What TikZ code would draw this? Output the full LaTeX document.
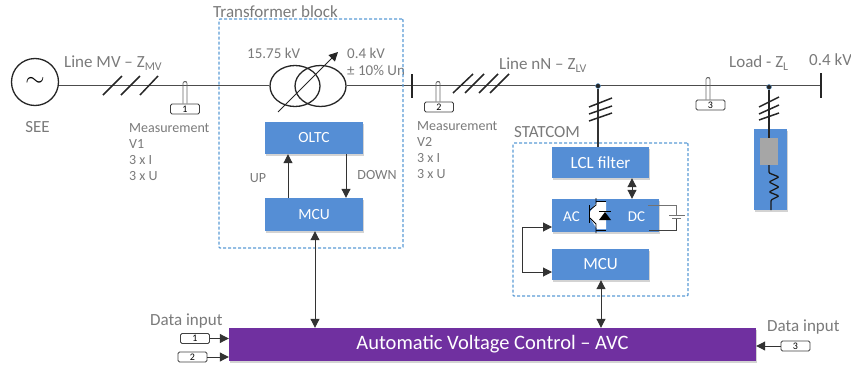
\documentclass[tikz,border=0pt]{standalone}
\usepackage{fontspec}
\setmainfont{Carlito}
\usetikzlibrary{arrows.meta}
\usetikzlibrary{positioning}
\usetikzlibrary{shapes.geometric}
\usetikzlibrary{shadows}
\definecolor{labelgray}{HTML}{7A7A7A}
\definecolor{blockblue}{HTML}{558ED5}
\definecolor{dashblue}{HTML}{5B9BD5}
\definecolor{avcpurple}{HTML}{7030A0}

\begin{document}
\begin{tikzpicture}[x=1pt,y=-1pt,>={Triangle[length=9pt,width=9pt]},
                    label node/.style={text=labelgray,font=\fontsize{17}{17}\selectfont,inner sep=0pt},
                    volt node/.style={text=labelgray,font=\fontsize{15}{15}\selectfont,inner sep=0pt},
                    small node/.style={text=labelgray,font=\fontsize{14}{16}\selectfont,inner sep=0pt,align=left},
                    block node/.style={fill=blockblue,text=white,font=\fontsize{15.5}{15}\selectfont,inner sep=0pt,
                      drop shadow={shadow xshift=1pt,shadow yshift=-2pt,opacity=.35}},
                    big text/.style={font=\fontsize{17}{17}\selectfont},
                    dash box/.style={draw=dashblue,line width=1.1pt,dash pattern=on 3pt off 2pt,rounded corners=1pt},
                    ct box/.style={draw=black!75,line width=.8pt,rounded corners=1.5pt,minimum width=29pt,minimum height=10pt,
                      inner sep=0pt,font=\fontsize{10}{10}\selectfont},
                    ct loop/.style={draw=black!60,line width=.8pt,rounded corners=1.5pt},
                    bus/.style={draw=black!70,line width=.9pt},
                    tick/.style={black!85,line width=1.5pt},
                    wire/.style={black!80,line width=1pt},
                    winding/.style={draw=black!85,ellipse,line width=1.3pt,inner sep=0pt}]

  \useasboundingbox (0,0) rectangle (851,367);

  \node[draw=black!85,circle,line width=1.3pt,minimum size=47pt,inner sep=0pt,font=\fontsize{26}{26}\selectfont] (see) at (35,82) {$\sim$};
  \node[label node] (seelabel) at (37.5,127) {SEE};
  \node[winding,minimum width=50pt,minimum height=41pt] (primary) at (295,86) {};
  \node[winding,minimum width=51pt,minimum height=41pt] (secondary) at (320.5,86) {};
  \coordinate (busa top) at (412,74);
  \coordinate (busa) at (412,85);
  \coordinate (busa bottom) at (412,98);
  \coordinate (busb top) at (821,73);
  \coordinate (busb) at (821,85);
  \coordinate (busb bottom) at (821,98);
  \coordinate (tapstart) at (278,112);
  \coordinate (tapend) at (338,52);

  \draw[bus] (busa -| see.east) -- (busa -| primary.west);
  \draw[bus] (busa -| secondary.east) -- (busa);
  \draw[bus] (busa) -- (busb);
  \draw[black!85,line width=1.5pt] (busa top) -- (busa bottom);
  \draw[black!85,line width=1.5pt] (busb top) -- (busb bottom);
  \draw[->,black!85,line width=1pt] (tapstart) -- (tapend);

  \foreach \xa/\xb in {103/122,121/140,140/158}
    \draw[tick] (\xa,95) -- (\xb,76);
  \foreach \xa/\xb in {453/473,465/484,479/498,490/509}
    \draw[tick] (\xa,93) -- (\xb,74);

  \node[label node,anchor=west] (linemv) at (64,63) {Line MV – Z\textsubscript{MV}};
  \node[label node,anchor=west] (linenn) at (499,65) {Line nN – Z\textsubscript{LV}};
  \node[label node,anchor=west] (loadlabel) at (729,63) {Load - Z\textsubscript{L}};
  \node[label node,anchor=west] (busvolt) at (809,60) {0.4 kV};
  \node[label node,anchor=west] (transtitle) at (213,12) {Transformer block};
  \node[volt node,anchor=west] (hivolt) at (247,53) {15.75 kV};
  \node[volt node,anchor=west] (lovolt) at (347,53) {0.4 kV};
  \node[volt node,anchor=west] (taprange) at (347,70) {± 10\% Un};
  \node[label node,anchor=west] (statlabel) at (514,132) {STATCOM};

  \node[ct box] (cta) at (185,109) {1};
  \node[ct box] (ctb) at (439,107) {2};
  \node[ct box] (ctc) at (710.5,105) {3};
  \draw[ct loop] ([xshift=-2pt]cta.north) |- ++(2,-22) -| ([xshift=2pt]cta.north);
  \draw[ct loop] ([xshift=-3pt]ctb.north) |- ++(2,-20) -| ([xshift=1pt]ctb.north);
  \draw[ct loop] ([xshift=-4.5pt]ctc.north) |- ++(2,-22) -| ([xshift=-.5pt]ctc.north);

  \node[small node,anchor=north west] (measa) at (129,123) {Measurement\\V1\\3 x I\\3 x U};
  \node[small node,anchor=north west] (measb) at (417,121) {Measurement\\V2\\3 x I\\3 x U};

  \node[dash box,minimum width=184pt,minimum height=229pt] (transbox) at (311,133.5) {};
  \node[block node,minimum width=98pt,minimum height=32pt] (oltc) at (314,138) {OLTC};
  \node[block node,minimum width=98pt,minimum height=33pt] (mcua) at (314,214.5) {MCU};
  \node[small node] (uplabel) at (258,178) {UP};
  \node[small node] (downlabel) at (377,175) {DOWN};
  \draw[->,wire] (mcua.north -| 288,0) -- (oltc.south -| 288,0);
  \draw[->,wire] (oltc.south -| 346,0) -- (mcua.north -| 346,0);

  \node[dash box,minimum width=175pt,minimum height=153pt] (statbox) at (600.5,219.5) {};
  \node[block node,big text,minimum width=97pt,minimum height=31pt] (lcl) at (600.5,162.5) {LCL filter};
  \node[block node,minimum width=107pt,minimum height=33pt] (conv) at (605.5,215.5) {};
  \node[block node,big text,minimum width=97pt,minimum height=31pt] (mcub) at (600.5,264.5) {MCU};
  \node[text=white,font=\fontsize{15}{15}\selectfont,inner sep=0pt] (aclabel) at (571.5,217) {AC};
  \node[text=white,font=\fontsize{15}{15}\selectfont,inner sep=0pt] (dclabel) at (636.5,217) {DC};

  \fill[white] (597,202) -- (606,202) -- (606,229) -- (597,229) -- (590,218) -- (590,212) -- cycle;
  \draw[black,line width=1pt] (589,205) -- (589,223);
  \draw[black,line width=.8pt] (596,198) -- (596,205) -- (590,210);
  \draw[black,line width=.8pt] (590,218) -- (596,224) -- (596,233);
  \draw[black,line width=.8pt] (596,201) -- (606,201);
  \draw[black,line width=.8pt] (596,230) -- (606,230);
  \fill[black] (599,220) -- (611,220) -- (605,212) -- cycle;
  \draw[black,line width=.8pt] (599,211.5) -- (611,211.5);

  \node[circle,fill=black!85,draw=dashblue,minimum size=5pt,inner sep=0pt] (junca) at (598,86) {};
  \node[circle,fill=black!85,draw=dashblue,minimum size=5pt,inner sep=0pt] (juncb) at (769,87) {};
  \draw[black!80,line width=1.3pt] (junca) -- (junca |- lcl.north);
  \foreach \ya/\yb in {107/98,114/106,121/113}
    \draw[tick] (589,\ya) -- (612,\yb);

  \draw[<->,wire] (lcl.south -| 632,0) -- (conv.north -| 632,0);
  \coordinate (loopac) at (552,227);
  \coordinate (loopmcu) at (552,272);
  \draw[<->,wire] (loopac) -| (522,272) -- (loopmcu);

  \coordinate (dctop) at (648,205);
  \coordinate (dcbottom) at (649,230);
  \coordinate (cellplus) at (676,215);
  \coordinate (cellminus) at (676,218);
  \draw[draw=black!55,line width=.8pt] (dctop) -| (cellplus);
  \draw[draw=black!75,line width=1pt] (dcbottom) -| (cellminus);
  \draw[black!55,line width=.8pt] (669,215) -- (685,215);
  \draw[black!55,line width=.8pt] (672,218) -- (681,218);

  \node[block node,minimum width=33pt,minimum height=81pt] (loadbox) at (770.5,169.5) {};
  \node[fill=black!35,minimum width=18pt,minimum height=27pt,inner sep=0pt] (loadcore) at (769,151.5) {};
  \draw[black!85,line width=1.3pt] (juncb) -- (loadcore.north -| juncb);
  \foreach \ya/\yb in {107/97,114/105,120/113}
    \draw[tick] (759,\ya) -- (779,\yb);
  \draw[black!90,line width=1.3pt,line join=round,rounded corners=1pt] (loadcore.south) -- (769,173) -- (779,177) -- (769,182) -- (779,187) -- (769,192) -- (779,196) -- (771,200) -- (771,210);

  \node[fill=avcpurple,text=white,font=\fontsize{20.5}{20}\selectfont,minimum width=527pt,minimum height=33pt,inner sep=0pt,
    drop shadow={shadow xshift=1pt,shadow yshift=-2pt,opacity=.35}] (avc) at (492.5,344.5) {Automatic Voltage Control – AVC};
  \draw[<->,wire] (mcua.south -| 315,0) -- (avc.north -| 315,0);
  \draw[<->,wire] (mcub.south -| 601,0) -- (avc.north -| 601,0);

  \node[label node,anchor=west] (datal) at (150,321) {Data input};
  \node[label node,anchor=west] (datar) at (767,327) {Data input};
  \node[ct box] (ina) at (195,338.5) {1};
  \node[ct box] (inb) at (192.5,357) {2};
  \node[ct box] (inc) at (795.5,346) {3};
  \draw[->,wire] (ina.east) -- (avc.west |- ina.east);
  \draw[->,wire] (inb.east) -- (avc.west |- inb.east);
  \draw[->,wire] (inc.west) -- (avc.east |- inc.west);
\end{tikzpicture}
\end{document}
